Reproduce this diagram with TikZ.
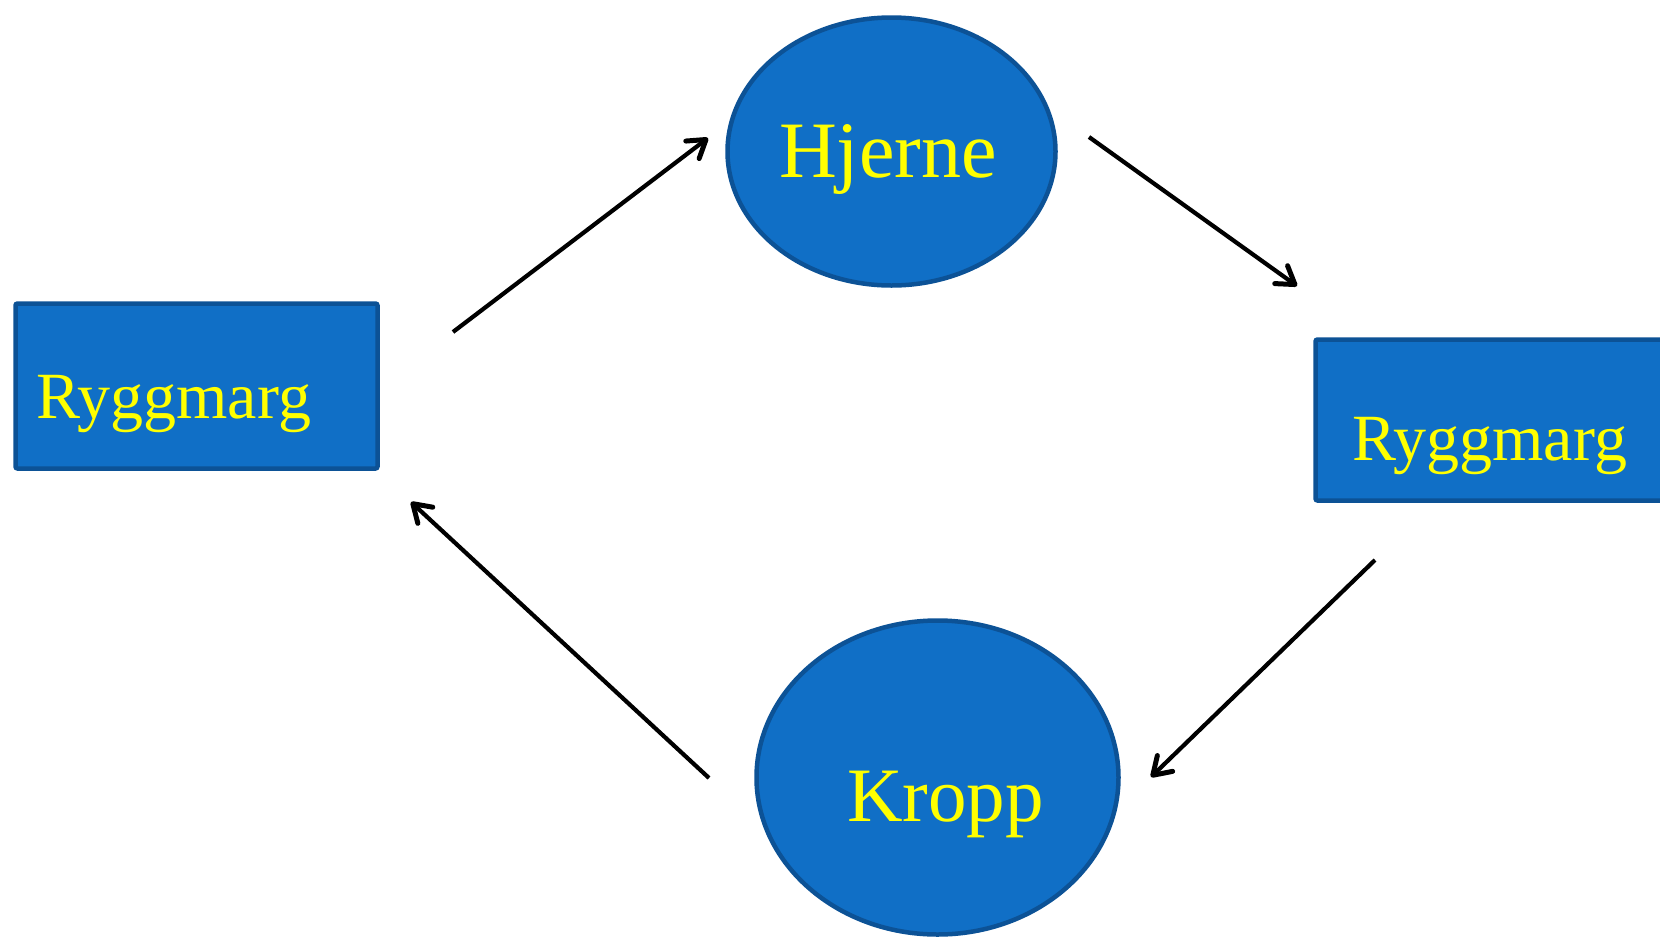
\documentclass[tikz,border=0pt]{standalone}
\usepackage{fontspec}
\setmainfont{Liberation Serif}
\usetikzlibrary{shapes.geometric,arrows.meta}
\definecolor{boxfill}{RGB}{16,111,198}
\definecolor{boxline}{RGB}{12,82,150}
\definecolor{labeltext}{RGB}{255,255,0}
\tikzset{
  organbox/.style={draw=boxline, fill=boxfill, line width=4.5pt, rounded corners=2pt},
  organoval/.style={draw=boxline, fill=boxfill, line width=4.5pt, ellipse, inner sep=0pt},
  organlabel/.style={text=labeltext, anchor=base west, inner sep=0pt},
  flow/.style={line width=4.2pt, -{Straight Barb[length=17pt,width=22pt,line width=5pt,round]}}
}
\begin{document}
\begin{tikzpicture}[x=1pt,y=-1pt]
\useasboundingbox (0,0) rectangle (1660,938);
\begin{scope}
\clip (0,0) rectangle (1660,938);
% boxes and ovals
\draw[organbox] (15.5,303.5) rectangle (377.5,468.5);
\draw[organbox] (1315.5,339.5) rectangle (1700,500.5);
\node[organoval, minimum width=328pt, minimum height=268pt] (brain) at (891.5,151.5) {};
\node[organoval, minimum width=362pt, minimum height=314pt] (body) at (937.5,777.5) {};
\end{scope}
% labels
\node[organlabel, font=\fontsize{66}{66}\selectfont] (cordL) at (36,418) {Ryggmarg};
\node[organlabel, font=\fontsize{66}{66}\selectfont] (cordR) at (1352,460) {Ryggmarg};
\node[organlabel, font=\fontsize{80}{80}\selectfont] (brainT) at (779,177) {Hjerne};
\node[organlabel, font=\fontsize{77}{77}\selectfont] (bodyT) at (847,821) {Kropp};
% arrow end points
\coordinate (a1) at (453,332); \coordinate (a2) at (708,138);
\coordinate (b1) at (1089,137); \coordinate (b2) at (1297,286);
\coordinate (c1) at (1375,560); \coordinate (c2) at (1151,777);
\coordinate (d1) at (709,778); \coordinate (d2) at (411,502);
\draw[flow] (a1) -- (a2);
\draw[flow] (b1) -- (b2);
\draw[flow] (c1) -- (c2);
\draw[flow] (d1) -- (d2);
\end{tikzpicture}
\end{document}
